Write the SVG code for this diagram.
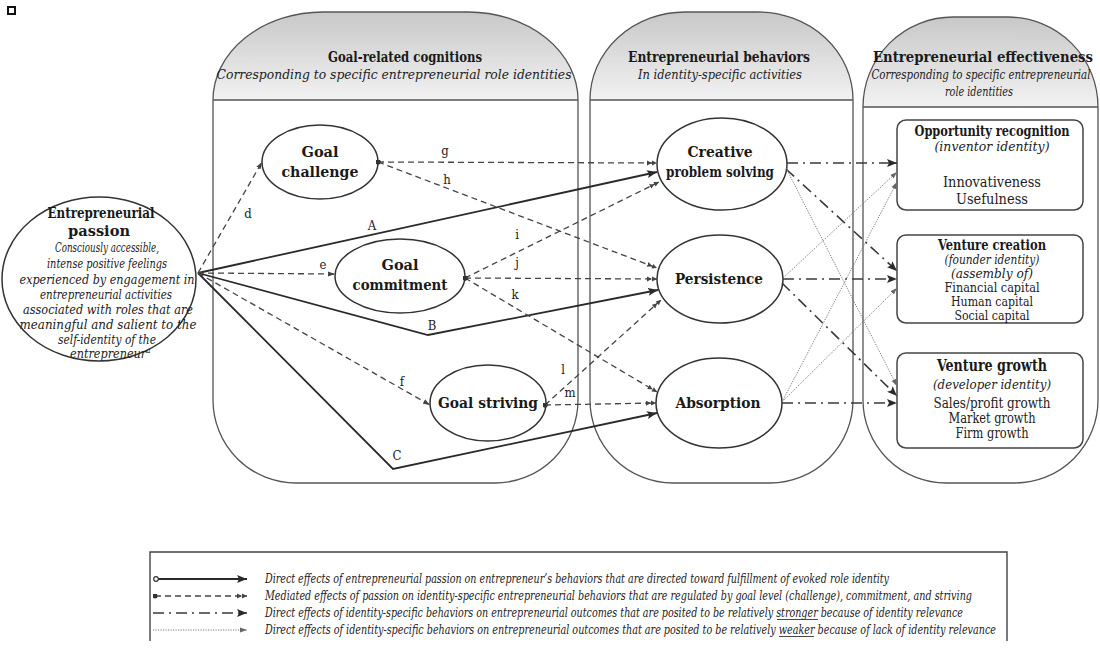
<svg xmlns="http://www.w3.org/2000/svg" width="1100" height="659" viewBox="0 0 1100 659">
<style>
.b{font-family:"DejaVu Serif Condensed","DejaVu Serif","Liberation Serif",serif;font-stretch:condensed;font-weight:bold;fill:#1a1a1a}
.i{font-family:"DejaVu Serif Condensed","DejaVu Serif","Liberation Serif",serif;font-stretch:condensed;font-style:italic;fill:#222}
.r{font-family:"DejaVu Serif Condensed","DejaVu Serif","Liberation Serif",serif;font-stretch:condensed;fill:#222}
.lbl{font-family:"DejaVu Serif Condensed","DejaVu Serif","Liberation Serif",serif;font-stretch:condensed;fill:#222;font-size:13px;text-anchor:middle}
.c{text-anchor:middle}
.panel{fill:none;stroke:#555;stroke-width:1.3}
.div{stroke:#555;stroke-width:1.6}
.node{fill:#fff;stroke:#333;stroke-width:1.5}
.box{fill:#fff;stroke:#444;stroke-width:1.5}
.solid{fill:none;stroke:#2a2a2a;stroke-width:1.8}
.dash{fill:none;stroke:#444;stroke-width:1.3;stroke-dasharray:6 4}
.dd{fill:none;stroke:#3a3a3a;stroke-width:1.6;stroke-dasharray:11 5 2 5}
.dot{fill:none;stroke:#777;stroke-width:1;stroke-dasharray:1.2 1.3}
</style>
<defs>
<linearGradient id="hg" x1="0" y1="0" x2="0" y2="1">
<stop offset="0" stop-color="#c8c8c8"/>
<stop offset="1" stop-color="#f2f2f2"/>
</linearGradient>
<marker id="ah" viewBox="0 0 10 8" refX="10" refY="4" markerWidth="10" markerHeight="8" markerUnits="userSpaceOnUse" orient="auto"><path d="M0,0 L10,4 L0,8 L2,4 z" fill="#2a2a2a"/></marker>
<marker id="ah2" viewBox="0 0 10 6" refX="10" refY="3" markerWidth="10" markerHeight="6" markerUnits="userSpaceOnUse" orient="auto"><path d="M0,0.5 L5,3 L0,5.5 z M5,0.5 L10,3 L5,5.5 z" fill="#444"/></marker>
<marker id="ah1" viewBox="0 0 7 6" refX="7" refY="3" markerWidth="7" markerHeight="6" markerUnits="userSpaceOnUse" orient="auto"><path d="M0,0.5 L7,3 L0,5.5 z" fill="#444"/></marker>
<marker id="ahd" viewBox="0 0 7 6" refX="7" refY="3" markerWidth="7" markerHeight="6" markerUnits="userSpaceOnUse" orient="auto"><path d="M0,0.5 L7,3 L0,5.5 z" fill="#666"/></marker>
<marker id="sd" viewBox="0 0 6 6" refX="3" refY="3" markerWidth="5" markerHeight="5" markerUnits="userSpaceOnUse"><circle cx="3" cy="3" r="3" fill="#333"/></marker>
</defs>
<rect width="1100" height="659" fill="#fff"/>
<rect x="8" y="7" width="7" height="7" fill="none" stroke="#111" stroke-width="2"/>

<g id="panel-cognitions">
<path d="M213,100 A110,88 0 0 1 323,12 H468 A110,88 0 0 1 578,100 Z" fill="url(#hg)"/>
<path class="panel" d="M213,400 V100 A110,88 0 0 1 323,12 H468 A110,88 0 0 1 578,100 V400 A83,83 0 0 1 495,483 H296 A83,83 0 0 1 213,400 Z"/>
<line class="div" x1="213" y1="100" x2="578" y2="100"/>
<text class="b c" x="405" y="62" font-size="15" textLength="154" lengthAdjust="spacingAndGlyphs">Goal-related cognitions</text>
<text class="i c" x="394" y="79" font-size="13.5" textLength="355" lengthAdjust="spacingAndGlyphs">Corresponding to specific entrepreneurial role identities</text>
</g>
<g id="panel-behaviors">
<path d="M590,100 A95,88 0 0 1 685,12 H758 A95,88 0 0 1 853,100 Z" fill="url(#hg)"/>
<path class="panel" d="M590,400 V100 A95,88 0 0 1 685,12 H758 A95,88 0 0 1 853,100 V400 A83,83 0 0 1 770,483 H673 A83,83 0 0 1 590,400 Z"/>
<line class="div" x1="590" y1="100" x2="853" y2="100"/>
<text class="b c" x="719" y="62" font-size="15" textLength="182" lengthAdjust="spacingAndGlyphs">Entrepreneurial behaviors</text>
<text class="i c" x="720" y="79" font-size="13.5" textLength="164" lengthAdjust="spacingAndGlyphs">In identity-specific activities</text>
</g>
<g id="panel-effectiveness">
<path d="M863,107 A90,90 0 0 1 953,17 H1008 A90,90 0 0 1 1098,107 Z" fill="url(#hg)"/>
<path class="panel" d="M863,400 V107 A90,90 0 0 1 953,17 H1008 A90,90 0 0 1 1098,107 V400 A83,83 0 0 1 1015,483 H946 A83,83 0 0 1 863,400 Z"/>
<line class="div" x1="863" y1="107" x2="1098" y2="107"/>
<text class="b c" x="983" y="62" font-size="15" textLength="220" lengthAdjust="spacingAndGlyphs">Entrepreneurial effectiveness</text>
<text class="i c" x="981" y="79" font-size="12.5" textLength="219" lengthAdjust="spacingAndGlyphs">Corresponding to specific entrepreneurial</text>
<text class="i c" x="979" y="96" font-size="12.5" textLength="68" lengthAdjust="spacingAndGlyphs">role identities</text>
</g>

<g id="node-passion">
<ellipse class="node" cx="99" cy="279" rx="97" ry="82"/>
<text class="b c" x="101" y="218" font-size="15" textLength="107" lengthAdjust="spacingAndGlyphs">Entrepreneurial</text>
<text class="b c" x="99" y="236" font-size="15" textLength="62" lengthAdjust="spacingAndGlyphs">passion</text>
<text class="i c" x="107" y="252" font-size="12.5" textLength="104" lengthAdjust="spacingAndGlyphs">Consciously accessible,</text>
<text class="i c" x="107" y="268" font-size="12.5" textLength="120" lengthAdjust="spacingAndGlyphs">intense positive feelings</text>
<text class="i c" x="107" y="284" font-size="12.5" textLength="175" lengthAdjust="spacingAndGlyphs">experienced by engagement in</text>
<text class="i c" x="106" y="299" font-size="12.5" textLength="132" lengthAdjust="spacingAndGlyphs">entrepreneurial activities</text>
<text class="i c" x="108" y="314" font-size="12.5" textLength="170" lengthAdjust="spacingAndGlyphs">associated with roles that are</text>
<text class="i c" x="108" y="329" font-size="12.5" textLength="177" lengthAdjust="spacingAndGlyphs">meaningful and salient to the</text>
<text class="i c" x="107" y="344" font-size="12.5" textLength="98" lengthAdjust="spacingAndGlyphs">self-identity of the</text>
<text class="i" x="70" y="358" font-size="12.5">entrepreneur<tspan font-size="8" dy="-5">a</tspan></text>
</g>

<g id="node-goal-challenge">
<ellipse class="node" cx="320" cy="162" rx="58" ry="37"/>
<text class="b c" x="320" y="157" font-size="15" textLength="37" lengthAdjust="spacingAndGlyphs">Goal</text>
<text class="b c" x="320" y="177" font-size="15" textLength="77" lengthAdjust="spacingAndGlyphs">challenge</text>
</g>
<g id="node-goal-commitment">
<ellipse class="node" cx="400" cy="276" rx="65" ry="37"/>
<text class="b c" x="400" y="270" font-size="15" textLength="37" lengthAdjust="spacingAndGlyphs">Goal</text>
<text class="b c" x="400" y="290" font-size="15" textLength="95" lengthAdjust="spacingAndGlyphs">commitment</text>
</g>
<g id="node-goal-striving">
<ellipse class="node" cx="488" cy="403" rx="58" ry="38"/>
<text class="b c" x="488" y="408" font-size="15" textLength="100" lengthAdjust="spacingAndGlyphs">Goal striving</text>
</g>
<g id="node-creative">
<ellipse class="node" cx="722" cy="164" rx="65" ry="46"/>
<text class="b c" x="720" y="157" font-size="15" textLength="65" lengthAdjust="spacingAndGlyphs">Creative</text>
<text class="b c" x="720" y="177" font-size="15" textLength="108" lengthAdjust="spacingAndGlyphs">problem solving</text>
</g>
<g id="node-persistence">
<ellipse class="node" cx="720" cy="279" rx="63" ry="44"/>
<text class="b c" x="719" y="284" font-size="15" textLength="88" lengthAdjust="spacingAndGlyphs">Persistence</text>
</g>
<g id="node-absorption">
<ellipse class="node" cx="719" cy="403" rx="63" ry="45"/>
<text class="b c" x="718" y="408" font-size="15" textLength="85" lengthAdjust="spacingAndGlyphs">Absorption</text>
</g>

<g id="node-opportunity">
<rect class="box" x="897" y="120" width="186" height="90" rx="9"/>
<text class="b c" x="992" y="136" font-size="14" textLength="155" lengthAdjust="spacingAndGlyphs">Opportunity recognition</text>
<text class="i c" x="992" y="151" font-size="13.5" textLength="115" lengthAdjust="spacingAndGlyphs">(inventor identity)</text>
<text class="r c" x="992" y="187" font-size="14" textLength="98" lengthAdjust="spacingAndGlyphs">Innovativeness</text>
<text class="r c" x="992" y="204" font-size="14" textLength="72" lengthAdjust="spacingAndGlyphs">Usefulness</text>
</g>
<g id="node-venture-creation">
<rect class="box" x="897" y="235" width="186" height="88" rx="9"/>
<text class="b c" x="992" y="250" font-size="14" textLength="108" lengthAdjust="spacingAndGlyphs">Venture creation</text>
<text class="i c" x="992" y="264" font-size="12.5" textLength="95" lengthAdjust="spacingAndGlyphs">(founder identity)</text>
<text class="i c" x="992" y="278" font-size="12.5" textLength="82" lengthAdjust="spacingAndGlyphs">(assembly of)</text>
<text class="r c" x="992" y="292" font-size="13" textLength="95" lengthAdjust="spacingAndGlyphs">Financial capital</text>
<text class="r c" x="992" y="306" font-size="13" textLength="82" lengthAdjust="spacingAndGlyphs">Human capital</text>
<text class="r c" x="992" y="320" font-size="13" textLength="75" lengthAdjust="spacingAndGlyphs">Social capital</text>
</g>
<g id="node-venture-growth">
<rect class="box" x="897" y="353" width="186" height="95" rx="9"/>
<text class="b c" x="992" y="371" font-size="16" textLength="110" lengthAdjust="spacingAndGlyphs">Venture growth</text>
<text class="i c" x="992" y="389" font-size="13.5" textLength="118" lengthAdjust="spacingAndGlyphs">(developer identity)</text>
<text class="r c" x="992" y="408" font-size="14" textLength="117" lengthAdjust="spacingAndGlyphs">Sales/profit growth</text>
<text class="r c" x="992" y="423" font-size="14" textLength="87" lengthAdjust="spacingAndGlyphs">Market growth</text>
<text class="r c" x="992" y="438" font-size="14" textLength="73" lengthAdjust="spacingAndGlyphs">Firm growth</text>
</g>

<g id="connectors">
<path class="solid" d="M198,273 L657,172" marker-end="url(#ah)"/>
<path class="solid" d="M198,273 L428,335 L658,290" marker-end="url(#ah)"/>
<path class="solid" d="M198,273 L393,469 L657,413" marker-end="url(#ah)"/>
<path class="dash" d="M198,273 L262,162" marker-end="url(#ah1)"/>
<path class="dash" d="M198,273 L335,274" marker-end="url(#ah1)"/>
<path class="dash" d="M198,273 L430,405" marker-end="url(#ah1)"/>
<path class="dash" d="M378,162 L657,163" marker-start="url(#sd)" marker-end="url(#ah2)"/>
<path class="dash" d="M378,162 L657,268" marker-start="url(#sd)" marker-end="url(#ah2)"/>
<path class="dash" d="M465,278 L659,182" marker-start="url(#sd)" marker-end="url(#ah2)"/>
<path class="dash" d="M465,278 L657,279" marker-start="url(#sd)" marker-end="url(#ah2)"/>
<path class="dash" d="M465,278 L657,392" marker-start="url(#sd)" marker-end="url(#ah2)"/>
<path class="dash" d="M545,405 L661,300" marker-start="url(#sd)" marker-end="url(#ah2)"/>
<path class="dash" d="M545,405 L656,403" marker-start="url(#sd)" marker-end="url(#ah2)"/>
<path class="dd" d="M787,163 L897,163" marker-end="url(#ah)"/>
<path class="dd" d="M786,169 L897,271" marker-end="url(#ah)"/>
<path class="dd" d="M783,279 L897,279" marker-end="url(#ah)"/>
<path class="dd" d="M782,283 L897,396" marker-end="url(#ah)"/>
<path class="dd" d="M782,403 L897,403" marker-end="url(#ah)"/>
<path class="dot" d="M786,168 L897,386" marker-end="url(#ahd)"/>
<path class="dot" d="M783,278 L897,172" marker-end="url(#ahd)"/>
<path class="dot" d="M782,402 L897,182" marker-end="url(#ahd)"/>
<path class="dot" d="M782,402 L897,288" marker-end="url(#ahd)"/>
<text class="lbl" x="248" y="218">d</text>
<text class="lbl" x="372" y="230">A</text>
<text class="lbl" x="323" y="269">e</text>
<text class="lbl" x="432" y="330">B</text>
<text class="lbl" x="402" y="386">f</text>
<text class="lbl" x="397" y="460">C</text>
<text class="lbl" x="445" y="155">g</text>
<text class="lbl" x="447" y="184">h</text>
<text class="lbl" x="517" y="239">i</text>
<text class="lbl" x="517" y="267">j</text>
<text class="lbl" x="515" y="299">k</text>
<text class="lbl" x="563" y="374">l</text>
<text class="lbl" x="570" y="397">m</text>
</g>

<g id="legend">
<path d="M150,641 V552 H1007 V641" fill="none" stroke="#444" stroke-width="1.4"/>
<circle cx="156" cy="579" r="2.3" fill="#fff" stroke="#333" stroke-width="1.2"/>
<path class="solid" d="M158.5,579 L247,579" marker-end="url(#ah)"/>
<path class="dash" d="M155,596 L247,596" marker-start="url(#sd)" marker-end="url(#ah2)"/>
<path class="dd" d="M153,613 L247,613" marker-end="url(#ah)"/>
<path class="dot" d="M153,630 L247,630" marker-end="url(#ahd)"/>
<text class="i" x="265" y="583" font-size="12" textLength="624" lengthAdjust="spacingAndGlyphs">Direct effects of entrepreneurial passion on entrepreneur’s behaviors that are directed toward fulfillment of evoked role identity</text>
<text class="i" x="265" y="600" font-size="12" textLength="707" lengthAdjust="spacingAndGlyphs">Mediated effects of passion on identity-specific entrepreneurial behaviors that are regulated by goal level (challenge), commitment, and striving</text>
<text class="i" x="265" y="617" font-size="12" textLength="698" lengthAdjust="spacingAndGlyphs">Direct effects of identity-specific behaviors on entrepreneurial outcomes that are posited  to be relatively stronger because of identity relevance</text>
<text class="i" x="265" y="634" font-size="12" textLength="731" lengthAdjust="spacingAndGlyphs">Direct effects of identity-specific behaviors on entrepreneurial outcomes that are posited to be relatively weaker because of lack of identity relevance</text>
<line x1="777" y1="619.5" x2="818" y2="619.5" stroke="#333" stroke-width="0.9"/>
<line x1="779" y1="636.5" x2="814" y2="636.5" stroke="#333" stroke-width="0.9"/>
</g>
</svg>
